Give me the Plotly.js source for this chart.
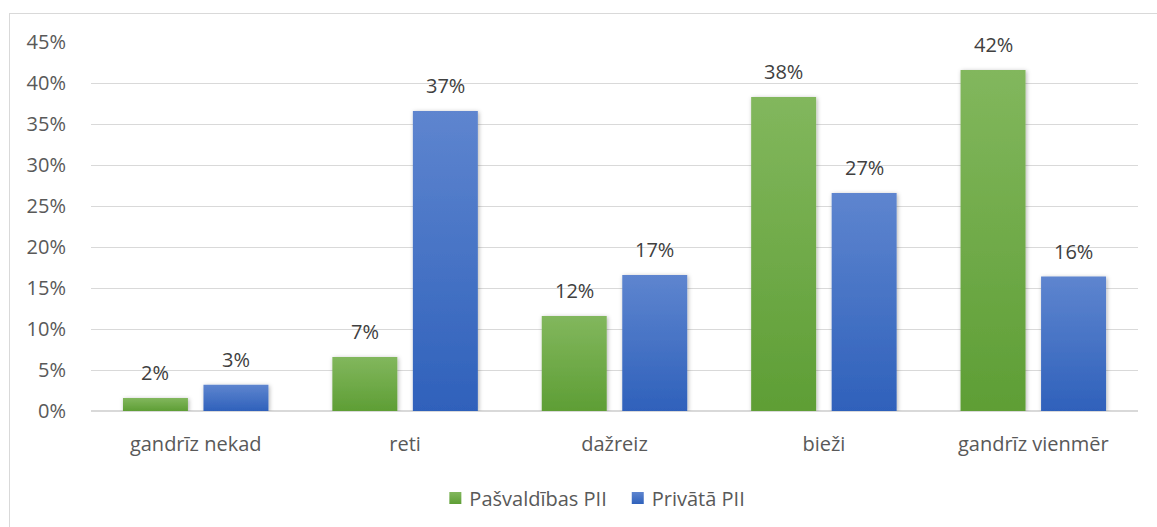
<!DOCTYPE html>
<html>
<head>
<meta charset="utf-8">
<script src="https://cdn.plot.ly/plotly-3.0.1.min.js"></script>
<style>
html,body{margin:0;padding:0;background:#fff;overflow:hidden;}
#frame{position:absolute;left:9px;top:13px;width:1300px;height:700px;border:1px solid #d9d9d9;box-sizing:border-box;}
#chart{position:absolute;left:0;top:0;width:1157px;height:527px;}
</style>
</head>
<body>
<div id="frame"></div>
<div id="chart"></div>
<script>
const categories = ["gandrīz nekad", "reti", "dažreiz", "bieži", "gandrīz vienmēr"];
const seriesNames = ["Pašvaldības PII", "Privātā PII"];
const pasvaldibas = [1.6, 6.6, 11.6, 38.3, 41.6];
const privata = [3.2, 36.6, 16.6, 26.6, 16.4];
const yTicks = [0, 5, 10, 15, 20, 25, 30, 35, 40, 45];
const colors = ["#70ad47", "#4472c4"];

const font = "Open Sans, Noto Sans, sans-serif";
const fs = 20;
const traces = [pasvaldibas, privata].map((vals, i) => ({
  type: "bar",
  name: seriesNames[i],
  x: categories,
  y: vals,
  marker: {color: colors[i]},
  hoverinfo: "none"
}));

const annotations = [];
[pasvaldibas, privata].forEach((vals, i) => {
  vals.forEach((v, j) => {
    annotations.push({
      x: categories[j], y: v, xref: "x", yref: "y",
      text: Math.round(v) + "%",
      showarrow: false,
      xshift: i === 0 ? -40.25 : 40.25,
      yshift: 25, yanchor: "middle",
      font: {family: font, size: fs, color: "#404040"}
    });
  });
});

const layout = {
  width: 1157, height: 527,
  margin: {l: 91, r: 19, t: 42, b: 116},
  paper_bgcolor: "rgba(0,0,0,0)",
  plot_bgcolor: "rgba(0,0,0,0)",
  barmode: "group",
  bargap: 0.231,
  bargroupgap: 0.193,
  font: {family: font, size: fs, color: "#595959"},
  xaxis: {
    type: "category",
    showgrid: false, zeroline: false, showline: false,
    ticks: "outside", ticklen: 15, tickcolor: "rgba(0,0,0,0)",
    tickfont: {family: font, size: fs, color: "#595959"}
  },
  yaxis: {
    range: [0, 45],
    tickvals: yTicks,
    ticktext: yTicks.map(t => t + "%"),
    showgrid: true, gridcolor: "#d9d9d9", gridwidth: 1,
    zeroline: true, zerolinecolor: "#d9d9d9", zerolinewidth: 1.5,
    showline: false,
    ticks: "outside", ticklen: 20, tickcolor: "rgba(0,0,0,0)",
    tickfont: {family: font, size: fs, color: "#595959"}
  },
  showlegend: true,
  legend: {
    orientation: "h", xref: "container", yref: "container",
    x: 0.515, xanchor: "center", y: 0.055, yanchor: "middle",
    font: {family: font, size: fs, color: "#595959"},
    itemwidth: 30, traceorder: "normal"
  },
  annotations: annotations
};

Plotly.newPlot("chart", traces, layout, {staticPlot: true, displayModeBar: false}).then(gd => {
  const svg = gd.querySelector("svg.main-svg");
  const ns = "http://www.w3.org/2000/svg";
  const defs = document.createElementNS(ns, "defs");
  const stops = [["#82b75d", "#5e9e35"], ["#5e85cf", "#2f61bb"]];
  stops.forEach((s, i) => {
    const g = document.createElementNS(ns, "linearGradient");
    g.setAttribute("id", "grad" + i);
    g.setAttribute("x1", "0"); g.setAttribute("y1", "0");
    g.setAttribute("x2", "0"); g.setAttribute("y2", "1");
    [[0, s[0]], [1, s[1]]].forEach(([o, c]) => {
      const st = document.createElementNS(ns, "stop");
      st.setAttribute("offset", o); st.setAttribute("stop-color", c);
      g.appendChild(st);
    });
    defs.appendChild(g);
  });
  const f = document.createElementNS(ns, "filter");
  f.setAttribute("id", "shadow");
  f.setAttribute("x", "-20%"); f.setAttribute("y", "-20%");
  f.setAttribute("width", "140%"); f.setAttribute("height", "140%");
  const ds = document.createElementNS(ns, "feDropShadow");
  ds.setAttribute("dx", "1"); ds.setAttribute("dy", "1");
  ds.setAttribute("stdDeviation", "2");
  ds.setAttribute("flood-color", "#000"); ds.setAttribute("flood-opacity", "0.3");
  f.appendChild(ds);
  defs.appendChild(f);
  svg.insertBefore(defs, svg.firstChild);
  gd.querySelectorAll(".barlayer .trace.bars").forEach((t, i) => {
    t.querySelectorAll("path").forEach(p => {
      p.style.fill = "url(#grad" + i + ")";
      p.setAttribute("filter", "url(#shadow)");
    });
  });
  gd.querySelectorAll(".legend .traces").forEach((t, i) => {
    t.querySelectorAll(".legendpoints path").forEach(p => { p.style.fill = "url(#grad" + i + ")"; });
    const txt = t.querySelector("text.legendtext");
    if (txt) txt.setAttribute("x", parseFloat(txt.getAttribute("x")) - 6);
  });
});
</script>
</body>
</html>
